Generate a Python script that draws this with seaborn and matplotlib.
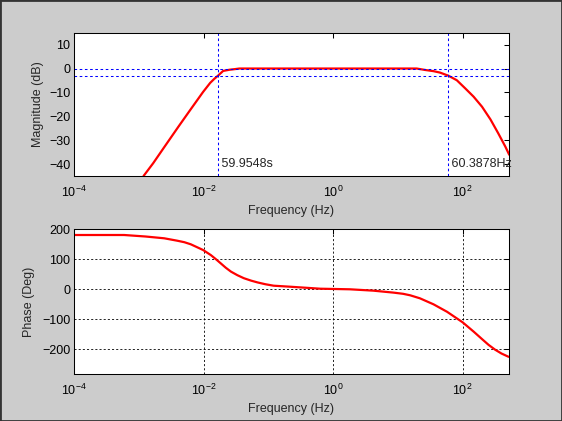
import numpy as np
import pandas as pd
import matplotlib
matplotlib.use('Agg')
import matplotlib.pyplot as plt
import seaborn as sns
from matplotlib.patches import Rectangle
from matplotlib.ticker import LogFormatterSciNotation, NullLocator

sns.set_theme(style='white')
plt.rcParams['font.family'] = ['Liberation Sans', 'DejaVu Sans']
plt.rcParams['mathtext.fontset'] = 'custom'
plt.rcParams['mathtext.rm'] = 'Liberation Sans'

# magnitude curve (log10 of Hz, dB)
mag_logf = [-2.93, -2.78, -2.62, -2.39, -2.21, -2.01, -1.90, -1.84, -1.78, -1.70,
            -1.60, -1.52, -1.45, 1.29, 1.42, 1.55, 1.65, 1.78, 1.91, 2.04,
            2.17, 2.30, 2.43, 2.55, 2.66, 2.72]
mag_db = [-45.0, -39.6, -33.3, -24.3, -17.4, -9.8, -6.0, -4.4, -3.0, -1.0,
          -0.5, -0.25, 0.0, 0.0, -0.6, -1.1, -1.7, -3.0, -4.9, -8.3,
          -11.8, -16.0, -21.3, -27.1, -32.7, -36.1]

# phase curve (log10 of Hz, degrees)
ph_logf = [-4.0, -3.23, -2.90, -2.61, -2.41, -2.30, -2.20, -2.01, -1.89, -1.81,
           -1.74, -1.66, -1.58, -1.48, -1.38, -1.27, -1.17, -1.05, -0.92, -0.67,
           -0.20, 0.26, 0.62, 0.93, 1.08, 1.19, 1.34, 1.55, 1.76, 2.00,
           2.17, 2.30, 2.40, 2.50, 2.60, 2.71]
ph_deg = [181, 181, 176, 170, 162, 157, 150, 131, 114, 100,
          87, 72, 59, 47, 37, 29, 23, 17, 12, 8.7,
          2, 0, -4.5, -11, -15, -20, -30, -50, -75, -110,
          -141, -166, -185, -201, -214, -225]

# cut-off markers
period_lo = 59.9548   # s
f_hi = 60.3878        # Hz
ref_db = [0, -3]
mag_yticks = [10, 0, -10, -20, -30, -40]
ph_yticks = [200, 100, 0, -100, -200]
x_ticks = [1e-4, 1e-2, 1e0, 1e2]

mag = pd.DataFrame({'f': 10 ** np.array(mag_logf), 'db': mag_db})
ph = pd.DataFrame({'f': 10 ** np.array(ph_logf), 'deg': ph_deg})

W, H = 562, 421
fs = 9
fig = plt.figure(figsize=(W / 100, H / 100), dpi=100, facecolor='#cccccc')
ax1 = fig.add_axes([74.3 / W, 1 - 176 / H, 434.4 / W, 143.3 / H])
ax2 = fig.add_axes([74.3 / W, 1 - 374.3 / H, 434.4 / W, 145 / H])

sns.lineplot(data=mag, x='f', y='db', ax=ax1, color='red', lw=1.6, sort=False)
sns.lineplot(data=ph, x='f', y='deg', ax=ax2, color='red', lw=1.6, sort=False)

xmax = 10 ** 2.712
for ax in (ax1, ax2):
    ax.set_facecolor('white')
    ax.set_xscale('log')
    ax.set_xticks(x_ticks)
    ax.xaxis.set_major_formatter(LogFormatterSciNotation())
    ax.xaxis.set_minor_locator(NullLocator())
    ax.set_xlim(1e-4, xmax)
    ax.tick_params(direction='in', length=3.6, width=0.75, top=True, right=True,
                   labelsize=fs, colors='black', pad=3)
    ax.tick_params(axis='x', pad=6)
    for s in ax.spines.values():
        s.set_visible(True)
        s.set_color('black')
        s.set_linewidth(0.75)
    ax.set_xlabel('Frequency (Hz)', fontsize=fs)

ax1.set_ylim(-45, 15)
ax1.set_yticks(mag_yticks)
ax1.set_ylabel('Magnitude (dB)', fontsize=fs)
ax1.yaxis.set_label_coords(-0.069, 0.5)
ax1.xaxis.set_label_coords(0.5, -0.2)

blue = dict(color='blue', lw=0.75, dashes=(2.5, 2.5))
for v in ref_db:
    ax1.axhline(v, **blue)
f_lo = 1 / period_lo
ax1.axvline(f_lo, **blue)
ax1.axvline(f_hi, **blue)
ax1.text(f_lo, -40, ' %.4fs' % period_lo, fontsize=fs, ha='left', va='center', clip_on=False)
ax1.text(f_hi, -40, ' %.4fHz' % f_hi, fontsize=fs, ha='left', va='center', clip_on=False)

ax2.set_ylim(-283.3, 200)
ax2.set_yticks(ph_yticks)
ax2.set_ylabel('Phase (Deg)', fontsize=fs)
ax2.yaxis.set_label_coords(-0.0905, 0.5)
ax2.xaxis.set_label_coords(0.5, -0.2)
ax2.grid(True, which='major', color='black', lw=0.6, linestyle=(0, (2.5, 2.5)))

fig.patches.append(Rectangle((0, 0), 1, 1, transform=fig.transFigure, fill=False,
                             edgecolor='#333333', lw=2))

fig.savefig('out.png', dpi=100, facecolor=fig.get_facecolor())
